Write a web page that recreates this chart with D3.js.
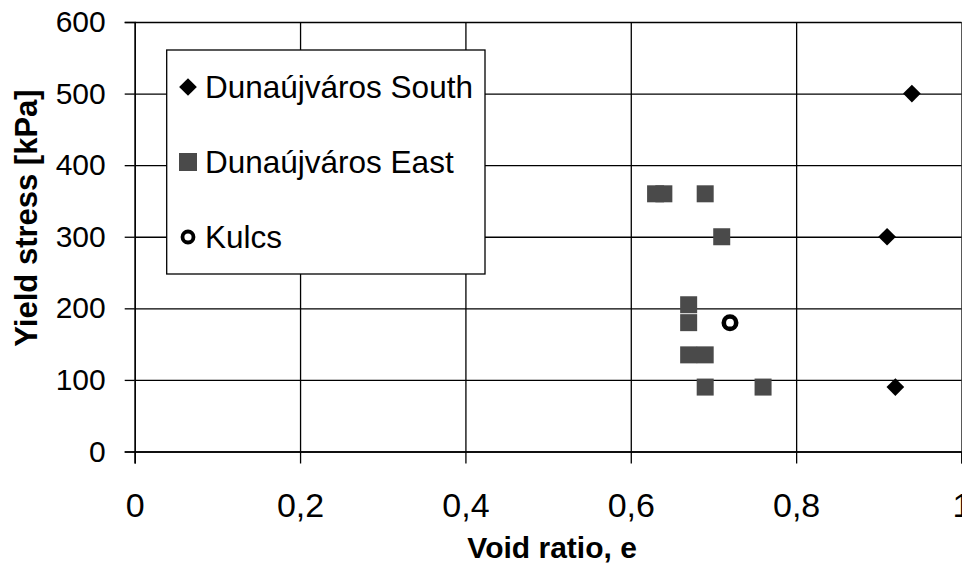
<!DOCTYPE html>
<html>
<head>
<meta charset="utf-8">
<script src="https://cdn.jsdelivr.net/npm/d3@7"></script>
<style>
  body { margin: 0; background: #fff; }
  text { font-family: 'Liberation Sans', Arial, sans-serif; fill: #000; }
</style>
</head>
<body>
<svg id="chart"></svg>
<script>
// data
const seriesNames = ['Dunaújváros South', 'Dunaújváros East', 'Kulcs']

const southX = [0.94, 0.91, 0.92]
const southY = [500, 300, 90]

const eastX = [0.63, 0.64, 0.69, 0.71, 0.67, 0.67, 0.67, 0.69, 0.69, 0.76]
const eastY = [360, 360, 360, 300, 205, 180, 135, 135, 90, 90]

const kulcsX = [0.72]
const kulcsY = [180]

const xTicks = [0, 0.2, 0.4, 0.6, 0.8, 1]
const yTicks = [0, 100, 200, 300, 400, 500, 600]

const width = 962,
  height = 565

const margin = { top: 22, left: 134.7, right: 0.5, bottom: 113.5 }
const plotW = width - margin.left - margin.right,
  plotH = height - margin.top - margin.bottom

const svg = d3.select('#chart')
  .attr('width', width)
  .attr('height', height)

const x = d3.scaleLinear().domain([0, 1]).range([margin.left, margin.left + plotW])
const y = d3.scaleLinear().domain([0, 600]).range([margin.top + plotH, margin.top])

const comma = d => String(d).replace('.', ',')

// grid lines
svg.append('g')
  .attr('transform', `translate(0,${margin.top + plotH})`)
  .call(d3.axisBottom(x).tickValues(xTicks).tickSize(-plotH).tickFormat(''))
  .call(g => g.select('.domain').remove())
  .selectAll('line').attr('stroke', '#000').attr('stroke-width', 1.3)

svg.append('g')
  .attr('transform', `translate(${margin.left},0)`)
  .call(d3.axisLeft(y).tickValues(yTicks).tickSize(-plotW).tickFormat(''))
  .call(g => g.select('.domain').remove())
  .selectAll('line').attr('stroke', '#000').attr('stroke-width', 1.3)

// axes with outward ticks
const xAxis = svg.append('g')
  .attr('transform', `translate(0,${margin.top + plotH})`)
  .call(d3.axisBottom(x).tickValues(xTicks).tickSize(12).tickPadding(29).tickFormat(comma))
xAxis.select('.domain').attr('stroke', '#000').attr('stroke-width', 1.6)
xAxis.selectAll('line').attr('stroke', '#000').attr('stroke-width', 1.3)
xAxis.selectAll('text')
  .attr('font-size', 34)
  .attr('font-family', "'Liberation Sans', Arial, sans-serif")
  .attr('fill', '#000')

const yAxis = svg.append('g')
  .attr('transform', `translate(${margin.left},0)`)
  .call(d3.axisLeft(y).tickValues(yTicks).tickSize(10).tickPadding(19))
yAxis.select('.domain').attr('stroke', '#000').attr('stroke-width', 1.3)
yAxis.selectAll('line').attr('stroke', '#000').attr('stroke-width', 1.3)
yAxis.selectAll('text')
  .attr('font-size', 30)
  .attr('font-family', "'Liberation Sans', Arial, sans-serif")
  .attr('fill', '#000')

// axis titles
svg.append('text')
  .attr('x', x(0.5) + 4)
  .attr('y', 558)
  .attr('text-anchor', 'middle')
  .attr('font-size', 30)
  .attr('font-weight', 'bold')
  .text('Void ratio, e')

svg.append('text')
  .attr('transform', `translate(37,218) rotate(-90)`)
  .attr('text-anchor', 'middle')
  .attr('font-size', 31)
  .attr('font-weight', 'bold')
  .text('Yield stress [kPa]')

// markers
const diamond = d3.symbol().type(d3.symbolDiamond2)

svg.append('g')
  .selectAll('path')
  .data(d3.zip(southX, southY))
  .enter().append('path')
  .attr('d', diamond.size(200)())
  .attr('transform', d => `translate(${x(d[0])},${y(d[1])})`)
  .attr('fill', '#000')

svg.append('g')
  .selectAll('rect')
  .data(d3.zip(eastX, eastY))
  .enter().append('rect')
  .attr('x', d => x(d[0]) - 8.5)
  .attr('y', d => y(d[1]) - 8.5)
  .attr('width', 17)
  .attr('height', 17)
  .attr('fill', '#4a4a4a')

svg.append('g')
  .selectAll('circle')
  .data(d3.zip(kulcsX, kulcsY))
  .enter().append('circle')
  .attr('cx', d => x(d[0]))
  .attr('cy', d => y(d[1]))
  .attr('r', 6.2)
  .attr('fill', '#fff')
  .attr('stroke', '#000')
  .attr('stroke-width', 4.6)

// legend
const legend = svg.append('g')

legend.append('rect')
  .attr('x', 166.7)
  .attr('y', 50)
  .attr('width', 318.3)
  .attr('height', 224)
  .attr('fill', '#fff')
  .attr('stroke', '#000')
  .attr('stroke-width', 1.3)

const rowY = [87, 162, 237]

legend.append('path')
  .attr('d', diamond.size(200)())
  .attr('transform', `translate(188,${rowY[0]})`)
  .attr('fill', '#000')

legend.append('rect')
  .attr('x', 179)
  .attr('y', rowY[1] - 9)
  .attr('width', 18)
  .attr('height', 18)
  .attr('fill', '#4a4a4a')

legend.append('circle')
  .attr('cx', 188)
  .attr('cy', rowY[2])
  .attr('r', 5.5)
  .attr('fill', '#fff')
  .attr('stroke', '#000')
  .attr('stroke-width', 3.8)

legend.selectAll('.label')
  .data(seriesNames)
  .enter().append('text')
  .attr('class', 'label')
  .attr('x', 205)
  .attr('y', (d, i) => rowY[i] + 10.5)
  .attr('font-size', 31.5)
  .text(d => d)
</script>
</body>
</html>
